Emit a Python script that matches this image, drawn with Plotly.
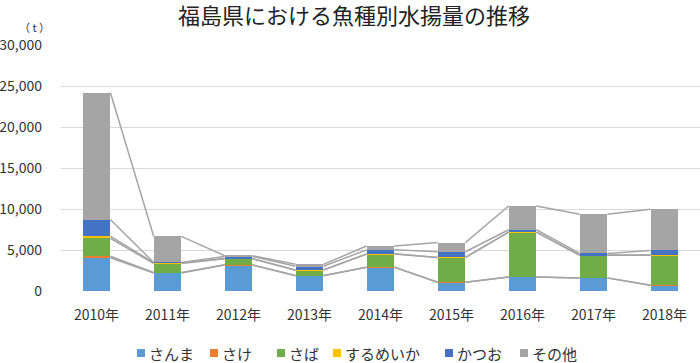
import plotly.graph_objects as go

years = ["2010年", "2011年", "2012年", "2013年", "2014年", "2015年", "2016年", "2017年", "2018年"]
series_names = ["さんま", "さけ", "さば", "するめいか", "かつお", "その他"]
sanma = [4060, 2200, 3170, 1870, 2890, 1060, 1710, 1590, 690]
sake = [170, 50, 20, 20, 20, 10, 10, 10, 10]
saba = [2200, 1100, 730, 650, 1590, 3010, 5450, 2760, 3660]
surumeika = [250, 100, 40, 30, 30, 20, 20, 20, 20]
katsuo = [2030, 30, 260, 450, 490, 690, 280, 200, 570]
sonota = [15490, 3190, 80, 230, 470, 1110, 2900, 4770, 5010]
colors = ["#5B9BD5", "#ED7D31", "#70AD47", "#FFC000", "#4472C4", "#A5A5A5"]
y_ticks = [0, 5000, 10000, 15000, 20000, 25000, 30000]

data = [sanma, sake, saba, surumeika, katsuo, sonota]
xs = list(range(len(years)))
bw = 0.39

W, H = 700, 363
ML, MR, MT, MB = 61, 0, 45, 72
PW, PH = W - ML - MR, H - MT - MB


def px_x(px):
    return (px - ML) / PW


def px_y(py):
    return (H - MB - py) / PH


fig = go.Figure()
for name, vals, col in zip(series_names, data, colors):
    fig.add_trace(go.Bar(x=xs, y=vals, name=name, width=bw, showlegend=False,
                         marker=dict(color=col, line=dict(width=0))))

# series lines (connecting cumulative tops between adjacent bars)
cum = [0] * len(years)
for vals in data:
    cum = [c + v for c, v in zip(cum, vals)]
    lx, ly = [], []
    for i in range(len(years) - 1):
        lx += [i + bw / 2, i + 1 - bw / 2, None]
        ly += [cum[i], cum[i + 1], None]
    fig.add_trace(go.Scatter(x=lx, y=ly, mode="lines", showlegend=False,
                             hoverinfo="skip",
                             line=dict(color="#A5A5A5", width=1.5)))

font_family = "Noto Sans CJK JP, Noto Sans, sans-serif"
fig.update_layout(
    width=W, height=H,
    barmode="stack",
    paper_bgcolor="white", plot_bgcolor="white",
    margin=dict(l=ML, r=MR, t=MT, b=MB, autoexpand=False),
    font=dict(family=font_family, color="#333333", size=14),
    title=dict(text="福島県における魚種別水揚量の推移", x=354 / W, xanchor="center",
               y=1 - 16 / H, yanchor="middle",
               font=dict(size=22, color="#222222", family=font_family)),
    xaxis=dict(range=[-0.5, len(years) - 0.5], tickmode="array", tickvals=xs,
               ticktext=years, showgrid=False, zeroline=False, showline=False,
               ticks="", automargin=False, ticklabelstandoff=14,
               tickfont=dict(size=14, color="#333333")),
    yaxis=dict(range=[0, 30000], tickmode="array", tickvals=y_ticks,
               tickformat=",", showgrid=True, gridcolor="#D9D9D9", gridwidth=1,
               zeroline=False, showline=False, ticks="", ticklabelstandoff=18,
               automargin=False, tickfont=dict(size=14, color="#333333")),
    showlegend=False,
    bargap=0.6,
)

# legend drawn manually (compact Excel-style)
legend_square_px = [137, 210, 277, 333, 445, 520]
for name, col, sx in zip(series_names, colors, legend_square_px):
    fig.add_shape(type="rect", xref="paper", yref="paper",
                  x0=px_x(sx), x1=px_x(sx + 8), y0=px_y(357), y1=px_y(349),
                  fillcolor=col, line=dict(width=0))
    fig.add_annotation(text=name, xref="paper", yref="paper",
                       x=px_x(sx + 10), y=px_y(353), xanchor="left",
                       yanchor="middle", showarrow=False,
                       font=dict(size=15, color="#333333"))

fig.add_annotation(text="（ t ）", xref="paper", yref="paper",
                   x=px_x(34), y=px_y(27), xanchor="center",
                   yanchor="middle", showarrow=False,
                   font=dict(size=11, color="#333333"))
fig.write_html("out.html", config={"displayModeBar": False},
               post_script="document.body.style.margin='0';document.body.style.overflow='hidden';")
